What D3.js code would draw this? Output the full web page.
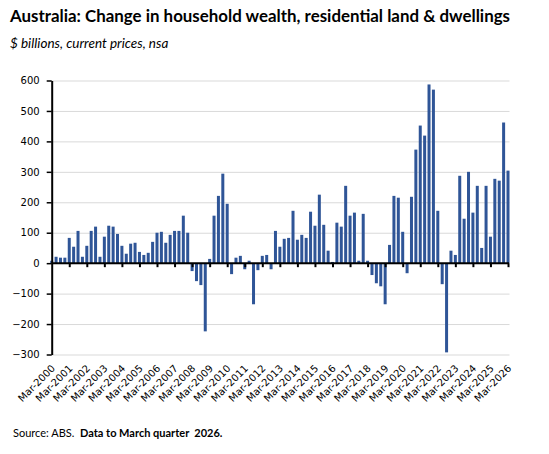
<!DOCTYPE html>
<html>
<head>
<meta charset="utf-8">
<script src="https://cdn.jsdelivr.net/npm/d3@7"></script>
<style>
  body { margin: 0; background: #fff; }
  svg { display: block; }
  .grid line { stroke: #d9d9d9; stroke-width: 1; }
  .grid path { display: none; }
  .y-axis text, .x-axis text { font-family: 'DejaVu Sans', Verdana, sans-serif; font-size: 10px; fill: #000; }
  .source { white-space: pre; }
</style>
</head>
<body>
<svg width="549" height="454"></svg>
<script>
// quarterly change, $ billions, Mar-2000 .. Mar-2026
const years = d3.range(2000, 2027);
const months = ['Mar', 'Jun', 'Sep', 'Dec'];
const changeValues = [
  8, 21, 18, 18, 83, 54, 106, 21, 57, 106, 120, 21, 87, 123, 120, 96,
  57, 31, 64, 67, 37, 27, 34, 70, 100, 103, 67, 93, 106, 106, 156, 100,
  -26, -59, -72, -224, 14, 156, 221, 294, 195, -36, 18, 24, -20, 8, -135, -23,
  24, 27, -20, 106, 54, 80, 83, 172, 77, 93, 83, 169, 123, 225, 126, 41,
  4, 133, 120, 254, 156, 166, 8, 162, 8, -39, -66, -76, -135, 60, 221, 215,
  103, -33, 218, 373, 452, 419, 587, 570, 172, -69, -293, 41, 27, 287, 146, 300,
  166, 254, 50, 254, 87, 277, 271, 462, 304
];
const yTicks = [-300, -200, -100, 0, 100, 200, 300, 400, 500, 600];

let quarters = [];
years.forEach(function (yr) {
  months.forEach(function (m) {
    quarters.push(m + '-' + yr);
  });
});
quarters = quarters.slice(0, changeValues.length);
const tickLabels = quarters.filter(function (d, i) { return i % 4 === 0; });

const data = quarters.map(function (q, i) {
  return { quarter: q, value: changeValues[i] };
});

const svg = d3.select('svg');
const plotLeft = 51.7, plotRight = 508, plotTop = 80.5, plotBottom = 354.5;

const x = d3.scalePoint().domain(quarters).range([plotLeft, plotRight]);
const y = d3.scaleLinear().domain([-300, 600]).range([plotBottom, plotTop]);
const barW = 3;

// title block
svg.append('text')
  .attr('x', 10)
  .attr('y', 22)
  .attr('font-family', 'Lato, sans-serif')
  .attr('font-weight', 'bold')
  .attr('font-size', 17.5)
  .attr('textLength', 500)
  .attr('lengthAdjust', 'spacingAndGlyphs')
  .text('Australia: Change in household wealth, residential land & dwellings');

svg.append('text')
  .attr('x', 10)
  .attr('y', 48)
  .attr('font-family', 'Lato, sans-serif')
  .attr('font-style', 'italic')
  .attr('font-size', 13.5)
  .text('$ billions, current prices, nsa');

// gridlines
svg.append('g')
  .attr('class', 'grid')
  .attr('transform', 'translate(' + plotLeft + ',0)')
  .call(d3.axisRight(y).tickValues(yTicks).tickSize(509.5 - plotLeft).tickFormat(''));

// bars
svg.append('g')
  .selectAll('rect')
  .data(data)
  .enter()
  .append('rect')
  .attr('x', function (d) { return x(d.quarter) - barW / 2; })
  .attr('width', barW)
  .attr('y', function (d) { return y(Math.max(0, d.value)); })
  .attr('height', function (d) { return Math.abs(y(d.value) - y(0)); })
  .attr('fill', '#2f5597');

// y axis
const yAxis = svg.append('g')
  .attr('class', 'y-axis')
  .attr('transform', 'translate(' + plotLeft + ',0)')
  .call(d3.axisLeft(y).tickValues(yTicks).tickSize(5).tickPadding(7).tickSizeOuter(0));
yAxis.select('.domain').attr('stroke', '#000').attr('stroke-width', 2);
yAxis.selectAll('.tick line').attr('stroke', '#000').attr('stroke-width', 1.5);

// x axis at zero
const xAxis = svg.append('g')
  .attr('class', 'x-axis')
  .attr('transform', 'translate(0,' + y(0) + ')')
  .call(d3.axisBottom(x).tickValues(tickLabels).tickSize(4).tickSizeOuter(0).tickFormat(''));
xAxis.select('.domain').attr('d', 'M' + plotLeft + ',0H509').attr('stroke', '#000').attr('stroke-width', 2);
xAxis.selectAll('.tick line').attr('stroke', '#000').attr('stroke-width', 2);
xAxis.selectAll('.tick').filter(function (d, i) { return i === 0; }).select('line').remove();

// x labels below the plot
svg.append('g')
  .attr('class', 'x-axis')
  .selectAll('text')
  .data(tickLabels)
  .enter()
  .append('text')
  .attr('text-anchor', 'end')
  .attr('transform', function (d) {
    return 'translate(' + (x(d) + 4) + ',369) rotate(-45)';
  })
  .text(function (d) { return d; });

// source
const src = svg.append('text')
  .attr('class', 'source')
  .attr('x', 13)
  .attr('y', 437)
  .attr('font-family', 'Lato, sans-serif')
  .attr('font-size', 11);
src.append('tspan').text('Source: ABS.  ');
src.append('tspan').attr('font-weight', 'bold').text('Data to March quarter  2026.');
</script>
</body>
</html>
